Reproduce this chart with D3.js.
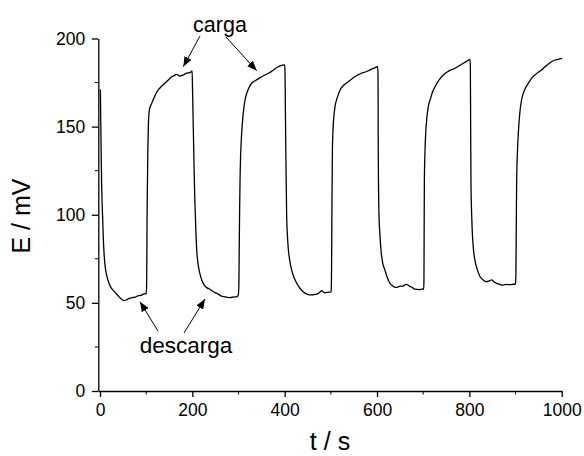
<!DOCTYPE html>
<html>
<head>
<meta charset="utf-8">
<script src="https://cdn.jsdelivr.net/npm/d3@7"></script>
<style>
  html, body { margin: 0; padding: 0; background: #fff; }
  svg { display: block; font-family: Arial, "Liberation Sans", sans-serif; }
</style>
</head>
<body>
<svg id="chart" width="584" height="456"></svg>
<script>
// Potential E (mV) versus time t (s) over five discharge/charge cycles
const timeS = [
  0.8, 1.5, 2.5, 3.5, 4.5, 5.5, 7, 9, 12, 16, 22, 29, 36, 43, 48, 53, 58, 64, 70, 76, 82, 88, 93, 98, 100,
  101, 102, 103.5, 104.7, 106.8, 112, 119, 126, 133, 140, 148, 155, 160, 166, 173, 180.5, 187.7, 195, 199.5,
  200.5, 202, 203.5, 205, 206.5, 208, 210, 213, 216, 221, 227, 232, 238, 244, 250, 256, 262, 268, 274, 280, 286, 292, 297, 299.5,
  300.8, 301.5, 302.3, 303.2, 304.5, 306.8, 310, 314, 320, 328.5, 336, 345, 355, 365, 375, 386, 393, 400,
  400.8, 401.5, 402.5, 403.5, 404.3, 406, 408, 411, 415, 420, 426, 433, 440, 448, 458, 466, 473, 477, 480, 484, 487, 494, 500.5,
  501.2, 501.8, 502.5, 503.4, 505, 507, 509, 514, 520, 528, 537.8, 545, 552, 560, 568, 575, 581, 588, 595, 601.5,
  602.2, 602.6, 603.2, 604.3, 606, 608.6, 612, 617, 622, 628, 633, 639, 645, 650, 655, 660, 664, 668, 672, 676, 680, 686, 692, 697, 701,
  701.6, 702, 702.5, 703.8, 705.4, 708, 711, 716, 720, 725.6, 733, 743.6, 752, 760, 769, 778, 786, 794, 801.5,
  802.2, 802.8, 803.5, 805, 806.5, 809, 812, 817, 823, 830, 837.5, 843, 848.4, 853, 859, 866, 873.5, 880, 887, 893, 900,
  900.8, 901.5, 902.4, 904, 906, 909, 913, 920, 927.7, 935, 943, 950, 956.6, 963, 970, 978, 985.5, 992, 1001
];
const potentialMV = [
  171, 155, 135, 118, 107, 100, 88, 77, 69, 64, 59.5, 57, 55, 53, 51.8, 51.3, 51.8, 52.6, 53, 53.2, 54, 54.2, 54.8, 55.2, 55,
  60, 100, 135, 150, 159.4, 163.2, 167.5, 170.8, 172.8, 174.5, 176.5, 178.3, 178.9, 179.7, 178.7, 179.3, 180.3, 180.6, 181.6,
  170, 150, 130, 112, 100, 88, 78, 71, 67, 62.5, 59.6, 58.5, 57.7, 56.6, 55.7, 55, 54, 53.5, 53.3, 53, 53.2, 53.4, 53.6, 54.5,
  60, 80, 100, 118, 133, 146, 157, 165, 170.5, 174.6, 176, 177.5, 179, 180.3, 182, 184, 184.8, 185,
  180, 160, 135, 115, 99, 88, 80, 74, 68.7, 64.5, 61.1, 58.3, 56.3, 55, 54.5, 54.8, 55.4, 56.2, 56.9, 56.2, 55.8, 56, 56.3,
  60, 80, 110, 136.7, 150, 157, 161.3, 166.5, 170.8, 173.5, 175.5, 177, 178.3, 179.5, 180.5, 181, 181.7, 182.6, 183.3, 184,
  178, 140, 118, 99, 90, 80, 73, 68.7, 64.5, 61.1, 59.8, 58.8, 59, 59.5, 59.4, 60.2, 60.5, 60, 59.2, 58.9, 58, 57.7, 57.5, 57.8, 57.7,
  62, 85, 118, 135, 146, 155, 161.3, 166, 169.5, 172.6, 176, 179.3, 181, 182.2, 183.1, 184.5, 185.8, 187, 188.2,
  182, 150, 118, 100, 89.5, 80, 74.3, 69, 65, 63, 62, 62.5, 63, 62, 61.1, 60.5, 60.1, 60.5, 60.3, 60.5, 60.7,
  66, 90, 117.8, 135, 146, 157, 165, 171, 174.6, 177.5, 179.5, 181, 182.1, 183.8, 185.2, 186.8, 187.8, 188.2, 188.8
];

// Axis ticks
const xMajorTicks = [0, 200, 400, 600, 800, 1000];
const xMinorTicks = [100, 300, 500, 700, 900];
const yMajorTicks = [0, 50, 100, 150, 200];
const yMinorTicks = [25, 75, 125, 175];

// Annotation labels and the [t, E] points where their arrows end
const chargeLabel = "carga";
const chargeArrowTargets = [[180.4, 184], [339.4, 181.7]];
const dischargeLabel = "descarga";
const dischargeArrowTargets = [[86.6, 50.7], [227.4, 52.2]];

const svg = d3.select("#chart");

const x = d3.scaleLinear().domain([-3.7, 1000]).range([98.3, 561.7]);
const y = d3.scaleLinear().domain([0, 200]).range([391, 38.5]);

const tickFont = 17.5;

// x axis
const gx = svg.append("g").attr("transform", `translate(0,${y(0)})`);
gx.call(d3.axisBottom(x).tickValues(xMajorTicks).tickFormat(d3.format("d"))
  .tickSizeInner(6).tickSizeOuter(0).tickPadding(7));
gx.append("g").selectAll("line").data(xMinorTicks).join("line")
  .attr("x1", d => x(d)).attr("x2", d => x(d)).attr("y1", 0).attr("y2", 3.5)
  .attr("stroke", "#000");

// y axis
const gy = svg.append("g").attr("transform", `translate(${x(-3.7)},0)`);
gy.call(d3.axisLeft(y).tickValues(yMajorTicks).tickFormat(d3.format("d"))
  .tickSizeInner(6.5).tickSizeOuter(0).tickPadding(6.5));
gy.append("g").selectAll("line").data(yMinorTicks).join("line")
  .attr("y1", d => y(d)).attr("y2", d => y(d)).attr("x1", 0).attr("x2", -3.5)
  .attr("stroke", "#000");

svg.selectAll(".domain, .tick line").attr("stroke", "#000").attr("stroke-width", 1.3);
svg.selectAll(".tick text").attr("font-size", tickFont).attr("fill", "#000")
  .attr("font-family", "Arial, 'Liberation Sans', sans-serif");

// axis titles
svg.append("text").attr("x", 330).attr("y", 450).attr("text-anchor", "middle")
  .attr("font-size", 25).text("t / s");
svg.append("text").attr("transform", "translate(30,216) rotate(-90)")
  .attr("text-anchor", "middle").attr("font-size", 25).text("E / mV");

// potential trace
const points = timeS.map((t, i) => [t, potentialMV[i]]);
svg.append("path").datum(points)
  .attr("fill", "none").attr("stroke", "#000").attr("stroke-width", 1.3)
  .attr("stroke-linejoin", "round")
  .attr("d", d3.line().x(d => x(d[0])).y(d => y(d[1])).curve(d3.curveMonotoneX));

// arrowheads
svg.append("defs").append("marker")
  .attr("id", "head").attr("markerUnits", "userSpaceOnUse")
  .attr("viewBox", "0 0 10 8").attr("refX", 10).attr("refY", 4)
  .attr("markerWidth", 10).attr("markerHeight", 8).attr("orient", "auto")
  .append("path").attr("d", "M0,0 L10,4 L0,8 Z").attr("fill", "#000");

function arrow(x1, y1, target) {
  svg.append("line").attr("x1", x1).attr("y1", y1)
    .attr("x2", x(target[0])).attr("y2", y(target[1]))
    .attr("stroke", "#000").attr("stroke-width", 1).attr("marker-end", "url(#head)");
}

// charge annotation
svg.append("text").attr("x", 220).attr("y", 32).attr("text-anchor", "middle")
  .attr("font-size", 21.5).text(chargeLabel);
arrow(200, 36, chargeArrowTargets[0]);
arrow(226, 37, chargeArrowTargets[1]);

// discharge annotation
svg.append("text").attr("x", 186).attr("y", 353).attr("text-anchor", "middle")
  .attr("font-size", 22.5).text(dischargeLabel);
arrow(158, 331, dischargeArrowTargets[0]);
arrow(184, 333, dischargeArrowTargets[1]);
</script>
</body>
</html>
